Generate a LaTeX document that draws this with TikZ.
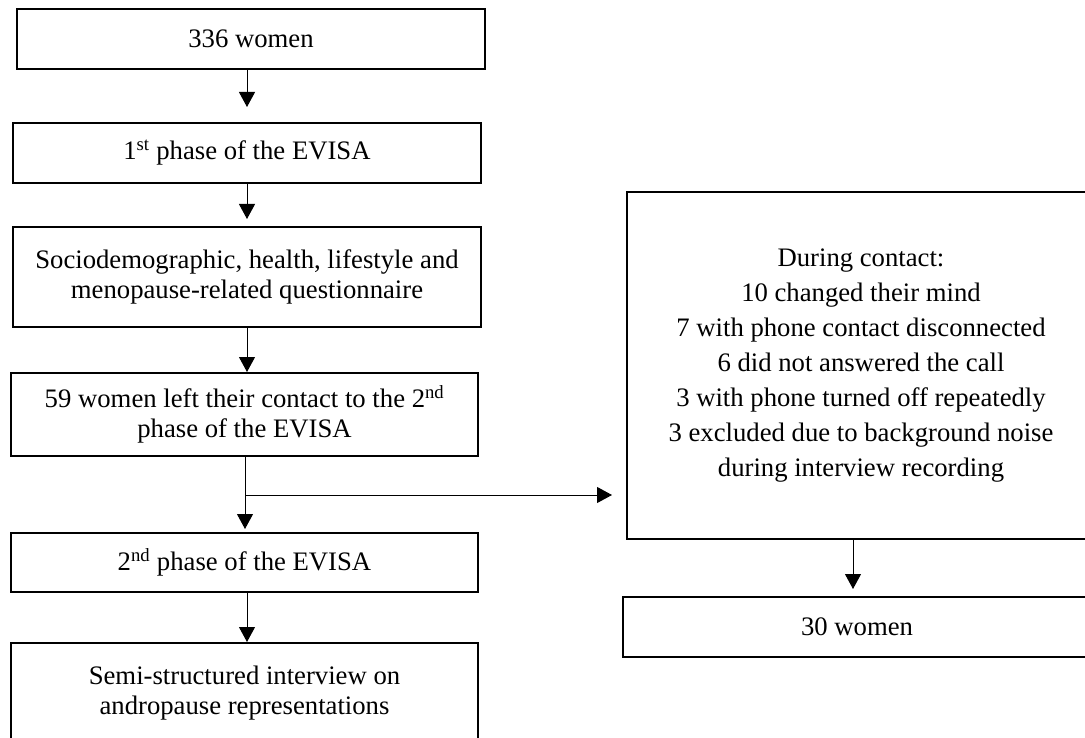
\documentclass[tikz,border=0pt]{standalone}
\usepackage{fontspec}
\setmainfont{Liberation Serif}
\usetikzlibrary{arrows.meta}
\begin{document}
\begin{tikzpicture}[x=1pt,y=-1pt,
  box/.style={draw=black,line width=2pt,inner sep=0pt,align=center,
    font=\fontsize{26.7}{30}\selectfont},
  bigbox/.style={box,font=\fontsize{26.7}{35}\selectfont},
  arr/.style={line width=1pt,-{Triangle[length=15pt,width=16pt]}}]
\fill[white] (0,0) rectangle (1085,738);
\useasboundingbox (0,0) rectangle (1085,738);
\clip (0,0) rectangle (1085,738);
\node[box,minimum width=468pt,minimum height=60pt] (b1) at (251,39) {336 women};
\node[box,minimum width=468pt,minimum height=60pt] (b2) at (247,153) {1\textsuperscript{st} phase of the EVISA};
\node[box,minimum width=468pt,minimum height=100pt] (b3) at (247,277) {Sociodemographic, health, lifestyle and\\menopause-related questionnaire};
\node[box,minimum width=467pt,minimum height=83pt] (b4) at (244.5,414.5) {59 women left their contact to the 2\textsuperscript{nd}\\phase of the EVISA};
\node[box,minimum width=467pt,minimum height=59pt] (b5) at (244.5,562.5) {2\textsuperscript{nd} phase of the EVISA};
\node[box,minimum width=467pt,minimum height=100pt] (b6) at (244.5,693) {Semi-structured interview on\\andropause representations};
\node[bigbox,minimum width=468pt,minimum height=347pt] (r1) at (861,365.5) {During contact:\\10 changed their mind\\7 with phone contact disconnected\\6 did not answered the call\\3 with phone turned off repeatedly\\3 excluded due to background noise\\during interview recording};
\node[box,minimum width=468pt,minimum height=60pt] (r2) at (857,627) {30 women};
\coordinate (br) at (245,495);
\draw[arr,shorten >=15pt] (b2.north |- b1.south) -- (b2.north);
\draw[arr,shorten >=7pt] (b2.south) -- (b3.north);
\draw[arr] (b3.south) -- (b4.north -| b3.south);
\draw[arr,shorten >=3pt] (b4.south -| br) -- (b5.north -| br);
\draw[arr] (b5.south -| b3.south) -- (b6.north -| b3.south);
\draw[arr,shorten >=14pt] (br) -- (br -| r1.west);
\draw[arr,shorten >=7pt] (r1.south -| 853,0) -- (r2.north -| 853,0);
\end{tikzpicture}
\end{document}
